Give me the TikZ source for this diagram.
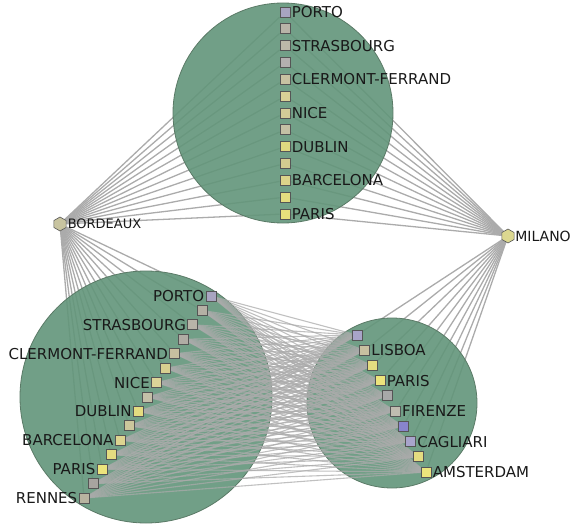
\documentclass[tikz,border=0pt]{standalone}
\usepackage{fontspec}
\setmainfont{DejaVu Sans}
\usetikzlibrary{shapes.geometric}
\pgfdeclarelayer{bg}
\pgfdeclarelayer{mid}
\pgfdeclarelayer{top}
\pgfsetlayers{bg,mid,top,main}
\definecolor{groupgreen}{HTML}{62957A}
\definecolor{groupline}{HTML}{5A7A66}
\definecolor{edgegray}{HTML}{ABABAB}
\definecolor{nodeline}{HTML}{555555}
% top group
\definecolor{ta}{HTML}{A8A4C0}\definecolor{tb}{HTML}{B8B4A8}\definecolor{tc}{HTML}{BCB8A8}
\definecolor{td}{HTML}{B4B0B0}\definecolor{te}{HTML}{C8C2A2}\definecolor{tf}{HTML}{D8D096}
\definecolor{tg}{HTML}{D4CC98}\definecolor{th}{HTML}{C4C0A4}\definecolor{ti}{HTML}{E0D880}
\definecolor{tj}{HTML}{D4CC90}\definecolor{tk}{HTML}{DCD48A}\definecolor{tl}{HTML}{E4DC80}
\definecolor{tm}{HTML}{E8E07C}
% left group
\definecolor{la}{HTML}{A8A4C0}\definecolor{lb}{HTML}{B4B0A4}\definecolor{lc}{HTML}{B8B4A8}
\definecolor{ld}{HTML}{B0ACA4}\definecolor{le}{HTML}{C8C0A0}\definecolor{lf}{HTML}{D8D090}
\definecolor{lg}{HTML}{DCD498}\definecolor{lh}{HTML}{C4C0A8}\definecolor{li}{HTML}{E4DC80}
\definecolor{lj}{HTML}{CCC69C}\definecolor{lk}{HTML}{DCD490}\definecolor{ll}{HTML}{E4DC80}
\definecolor{lm}{HTML}{ECE47C}\definecolor{ln}{HTML}{A8A4A0}\definecolor{lo}{HTML}{B8B4A0}
% right group
\definecolor{ra}{HTML}{A8A4C8}\definecolor{rb}{HTML}{C8C0A0}\definecolor{rc}{HTML}{E4DC80}
\definecolor{rd}{HTML}{ECE47C}\definecolor{re}{HTML}{A8A8A8}\definecolor{rf}{HTML}{C0BCB0}
\definecolor{rg}{HTML}{8884CC}\definecolor{rh}{HTML}{A8A4CC}\definecolor{ri}{HTML}{E4DC80}
\definecolor{rj}{HTML}{ECE47C}
\definecolor{bdxc}{HTML}{C8C4A0}
\definecolor{milc}{HTML}{DCD890}
\tikzset{
  city/.style={rectangle, draw=nodeline, line width=0.8pt, minimum size=10pt, inner sep=0pt},
  hub/.style={regular polygon, regular polygon sides=6, shape border rotate=30, draw=nodeline, line width=0.6pt, minimum size=14pt, inner sep=0pt},
  lab/.style={font=\fontsize{15}{15}\selectfont, inner sep=1.2pt, text=black!90},
  hublab/.style={font=\fontsize{14}{14}\selectfont, inner sep=0.8pt, text=black!90},
  smalllab/.style={font=\fontsize{13}{13}\selectfont, inner sep=1.2pt, text=black!90},
  edge/.style={draw=edgegray, line width=1.3pt},
  crossedge/.style={draw=edgegray, line width=1.1pt, opacity=0.75},
  group/.style={draw=groupline, fill=groupgreen, line width=0.8pt, fill opacity=0.9}
}
\begin{document}
\begin{tikzpicture}[x=1pt,y=-1pt]
\useasboundingbox (0,0) rectangle (574,527);
% hubs
\node[hub, fill=bdxc] (bdx) at (60,224) {};
\node[smalllab, anchor=west] (bdxl) at (bdx.east) {BORDEAUX};
\node[hub, fill=milc] (mil) at (508,236) {};
\node[hublab, anchor=west] (mill) at (mil.east) {MILANO};
% top group
\foreach \i/\c/\t in {1/ta/PORTO,2/tb/,3/tc/STRASBOURG,4/td/,5/te/CLERMONT-FERRAND,6/tf/,7/tg/NICE,8/th/,9/ti/DUBLIN,10/tj/,11/tk/BARCELONA,12/tl/,13/tm/PARIS}{
  \pgfmathsetmacro\yy{12+(\i-1)*16.83}
  \node[city, fill=\c] (t\i) at (285,\yy) {};
  \node[lab, anchor=west] (tl\i) at (t\i.east) {\t};
}
% left group
\foreach \i/\c/\t in {1/la/PORTO,2/lb/,3/lc/STRASBOURG,4/ld/,5/le/CLERMONT-FERRAND,6/lf/,7/lg/NICE,8/lh/,9/li/DUBLIN,10/lj/,11/lk/BARCELONA,12/ll/,13/lm/PARIS,14/ln/,15/lo/RENNES}{
  \pgfmathsetmacro\xx{211-(\i-1)*9.07}
  \pgfmathsetmacro\yy{296+(\i-1)*14.43}
  \node[city, fill=\c] (l\i) at (\xx,\yy) {};
  \node[lab, anchor=east] (ll\i) at (l\i.west) {\t};
}
% right group
\foreach \i/\c/\t in {1/ra/,2/rb/LISBOA,3/rc/,4/rd/PARIS,5/re/,6/rf/FIRENZE,7/rg/,8/rh/CAGLIARI,9/ri/,10/rj/AMSTERDAM}{
  \pgfmathsetmacro\xx{357+(\i-1)*7.67}
  \pgfmathsetmacro\yy{335+(\i-1)*15.22}
  \node[city, fill=\c] (r\i) at (\xx,\yy) {};
  \node[lab, anchor=west] (rl\i) at (r\i.east) {\t};
}
% group circles
\begin{pgfonlayer}{mid}
  \draw[group] (283,113) circle[radius=110pt];
  \draw[group] (146,397) circle[radius=126pt];
  \draw[group] (392,403) circle[radius=85pt];
\end{pgfonlayer}
% hub edges (below circles)
\begin{pgfonlayer}{bg}
  \foreach \i in {1,...,13}{
    \draw[edge] (bdx) -- (t\i);
    \draw[edge] (mil) -- (t\i);
  }
  \foreach \i in {1,...,15}{\draw[edge] (bdx) -- (l\i);}
  \foreach \i in {1,...,10}{\draw[edge] (mil) -- (r\i);}
\end{pgfonlayer}
% cross edges (above circles)
\begin{pgfonlayer}{top}
  \foreach \i in {1,...,15}{
    \foreach \j in {1,...,10}{
      \draw[crossedge] (l\i) -- (r\j);
    }
  }
\end{pgfonlayer}
\end{tikzpicture}
\end{document}
